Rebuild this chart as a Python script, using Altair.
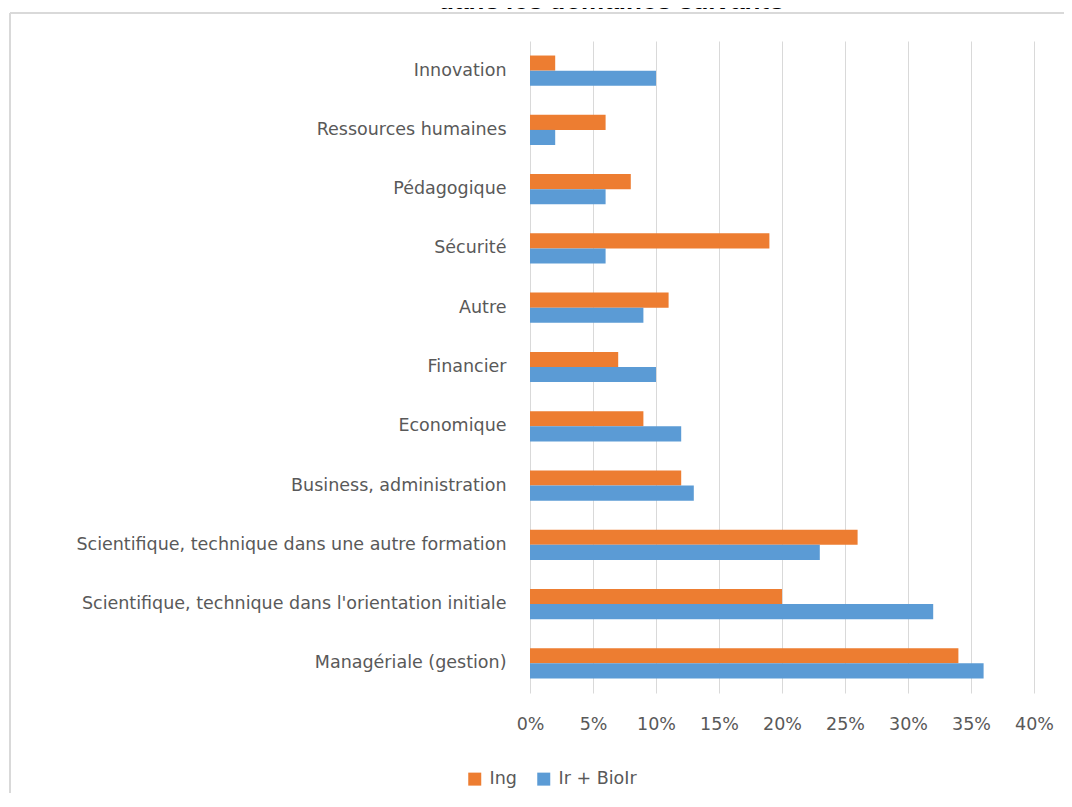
import altair as alt
import pandas as pd

categories = [
    "Innovation",
    "Ressources humaines",
    "Pédagogique",
    "Sécurité",
    "Autre",
    "Financier",
    "Economique",
    "Business, administration",
    "Scientifique, technique dans une autre formation",
    "Scientifique, technique dans l'orientation initiale",
    "Managériale (gestion)",
]
ing = [0.02, 0.06, 0.08, 0.19, 0.11, 0.07, 0.09, 0.12, 0.26, 0.20, 0.34]
ir = [0.10, 0.02, 0.06, 0.06, 0.09, 0.10, 0.12, 0.13, 0.23, 0.32, 0.36]
series = ["Ing", "Ir + BioIr"]
colors = ["#ED7D31", "#5B9BD5"]
ticks = [0, 0.05, 0.10, 0.15, 0.20, 0.25, 0.30, 0.35, 0.40]
title_text = "dans les domaines suivants"

rows = []
for c, a, b in zip(categories, ing, ir):
    rows.append({"cat": c, "series": series[0], "val": a})
    rows.append({"cat": c, "series": series[1], "val": b})
df = pd.DataFrame(rows)

label_color = "#595959"
font = "DejaVu Sans"
fsize = 17.5

bars = alt.Chart(df).mark_bar().encode(
    y=alt.Y(
        "cat:N",
        sort=categories,
        scale=alt.Scale(paddingInner=0.49, paddingOuter=0.245),
        axis=alt.Axis(
            title=None, labelFontSize=fsize, labelPadding=24, ticks=False,
            domain=False, labelColor=label_color, labelFont=font, labelLimit=700,
        ),
    ),
    x=alt.X(
        "val:Q",
        scale=alt.Scale(domain=[0, 0.4], nice=False),
        axis=alt.Axis(
            title=None, format=".0%", values=ticks, grid=True, gridColor="#d9d9d9",
            gridWidth=1, domain=False, ticks=False, tickSize=0, labelPadding=22,
            labelFontSize=fsize, labelColor=label_color, labelFont=font,
            labelFlush=False, labelOverlap=False,
        ),
    ),
    yOffset=alt.YOffset("series:N", sort=series),
    color=alt.Color(
        "series:N",
        sort=series,
        scale=alt.Scale(domain=series, range=colors),
        legend=alt.Legend(
            title=None, orient="none", legendX=-64, legendY=729,
            direction="horizontal", symbolType="square", symbolSize=169,
            symbolStrokeWidth=0, labelFontSize=fsize, labelFont=font,
            labelColor=label_color, columnPadding=18, labelOffset=6, padding=0,
        ),
    ),
)

dummy = pd.DataFrame({"a": [0]})

frame_left = alt.Chart(dummy).mark_rule(color="#d9d9d9", strokeWidth=2).encode(
    x=alt.value(-520), y=alt.value(-28), y2=alt.value(760)
)
frame_top = alt.Chart(dummy).mark_rule(color="#d9d9d9", strokeWidth=2).encode(
    x=alt.value(-520), x2=alt.value(540), y=alt.value(-28)
)
title = alt.Chart(dummy).mark_text(
    text=title_text, font="Liberation Sans", fontSize=26, fontWeight="bold",
    fontStyle="italic", align="center", baseline="alphabetic", color="#000000",
).encode(x=alt.value(82), y=alt.value(-32))

chart = alt.layer(frame_left, frame_top, title, bars).properties(
    width=504,
    height=652,
    autosize=alt.AutoSizeParams(type="none"),
    padding={"left": 522, "top": 33, "right": 30, "bottom": 100},
).configure_view(stroke=None)

chart.save("out.html", embed_options={"renderer": "svg", "actions": False})
